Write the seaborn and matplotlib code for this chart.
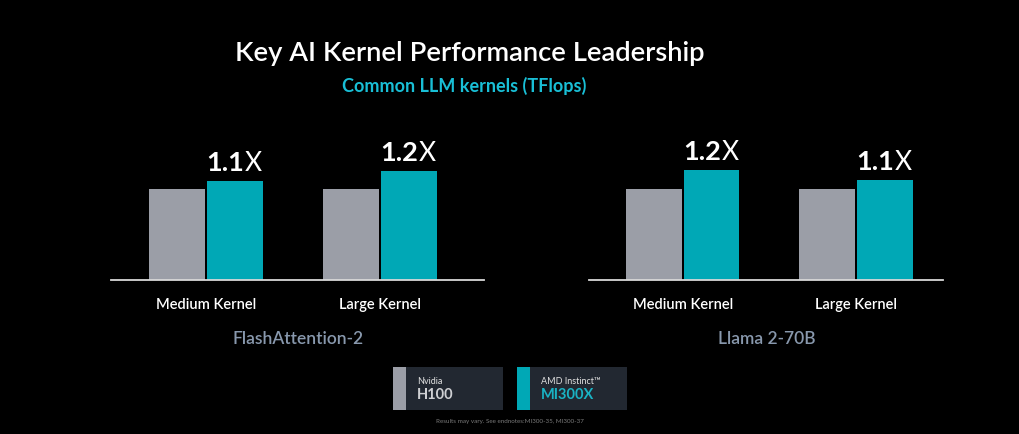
import pandas as pd
import matplotlib
matplotlib.use('Agg')
import matplotlib.pyplot as plt
import seaborn as sns
from matplotlib.patches import Rectangle

# data (relative TFlops, H100 = 1.0)
workloads = ['FlashAttention-2', 'Llama 2-70B']
kernels = ['Medium Kernel', 'Large Kernel']
gpus = ['H100', 'MI300X']
h100_vals = [[1.0, 1.0], [1.0, 1.0]]
mi300x_vals = [[1.08, 1.19], [1.20, 1.09]]
speedup_labels = [['1.1', '1.2'], ['1.2', '1.1']]

GRAY = '#9b9ea7'
TEAL = '#00a8b6'
BG = '#000000'

sns.set_theme(style='white')
plt.rcParams['font.family'] = ['Lato', 'DejaVu Sans']

fig = plt.figure(figsize=(10.2, 4.34), dpi=100, facecolor=BG)

# axes boxes in pixels: (left, right) on 1020x434 canvas, baseline at y=280
ax_px = [(111, 484), (589, 943)]
xlims = [(-0.546, 1.598), (-0.543, 1.503)]
label_x = [298, 767]

for i, wl in enumerate(workloads):
    rows = []
    for k, kern in enumerate(kernels):
        rows.append({'kernel': kern, 'gpu': 'H100', 'tflops': h100_vals[i][k]})
        rows.append({'kernel': kern, 'gpu': 'MI300X', 'tflops': mi300x_vals[i][k]})
    df = pd.DataFrame(rows)

    l, r = ax_px[i]
    ax = fig.add_axes([l / 1020, (434 - 280) / 434, (r - l) / 1020, 150 / 434])
    ax.set_facecolor(BG)
    sns.barplot(data=df, x='kernel', y='tflops', hue='gpu', hue_order=gpus,
                palette=[GRAY, TEAL], saturation=1, width=0.667, gap=0.04,
                linewidth=0, errorbar=None, legend=False, ax=ax)
    ax.set_xlim(*xlims[i])
    ax.set_ylim(0, 1.64)
    for s in ['top', 'left', 'right']:
        ax.spines[s].set_visible(False)
    ax.spines['bottom'].set_color('#d8d8d8')
    ax.spines['bottom'].set_linewidth(1.3)
    ax.set_yticks([])
    ax.set_xlabel('')
    ax.set_ylabel('')
    ax.tick_params(axis='x', length=0, pad=13, labelsize=10.5, labelcolor='white')
    for t in ax.get_xticklabels():
        t.set_fontweight('semibold')

    # speedup labels over the MI300X bars
    for bar, lab in zip(ax.containers[1], speedup_labels[i]):
        cx = bar.get_x() + bar.get_width() / 2
        h = bar.get_height()
        ax.annotate(lab, (cx, h), xytext=(9, 10), textcoords='offset pixels',
                    ha='right', va='baseline', fontsize=19.5, fontweight='bold',
                    color='white')
        ax.annotate('X', (cx, h), xytext=(10, 10), textcoords='offset pixels',
                    ha='left', va='baseline', fontsize=19, fontweight='normal',
                    color='white')

    fig.text(label_x[i] / 1020, 1 - 339 / 434, wl, ha='center', va='center',
             fontsize=12.5, fontweight='semibold', color='#8898ad')

# titles
fig.text(470 / 1020, 1 - 53 / 434, 'Key AI Kernel Performance Leadership',
         ha='center', va='center', fontsize=19.7, fontweight='semibold', color='white')
fig.text(464 / 1020, 1 - 86 / 434, 'Common LLM kernels (TFlops)',
         ha='center', va='center', fontsize=13, fontweight='bold', color='#19bfd6')

# custom legend boxes
legend_items = [(393, GRAY, 'Nvidia', 'H100', '#cfd0d3'),
                (517, TEAL, 'AMD Instinct\u2122', 'MI300X', '#1ab3c4')]
for x0, col, small, big, bigcol in legend_items:
    y0 = 434 - 410
    fig.add_artist(Rectangle((x0 / 1020, y0 / 434), 110 / 1020, 43 / 434,
                             transform=fig.transFigure, facecolor='#222831',
                             edgecolor='none'))
    fig.add_artist(Rectangle((x0 / 1020, y0 / 434), 13 / 1020, 43 / 434,
                             transform=fig.transFigure, facecolor=col,
                             edgecolor='none'))
    fig.text((x0 + 24) / 1020, 1 - 381 / 434, small, ha='left', va='center',
             fontsize=6.5, color='#e0e0e0')
    fig.text((x0 + 24) / 1020, 1 - 395 / 434, big, ha='left', va='center',
             fontsize=10.5, fontweight='bold', color=bigcol)

fig.text(510 / 1020, 1 - 422 / 434,
         'Results may vary. See endnotes:MI300-35, MI300-37',
         ha='center', va='center', fontsize=4.5, color='#7a7a7a')

fig.savefig('out.png', dpi=100, facecolor=BG)
